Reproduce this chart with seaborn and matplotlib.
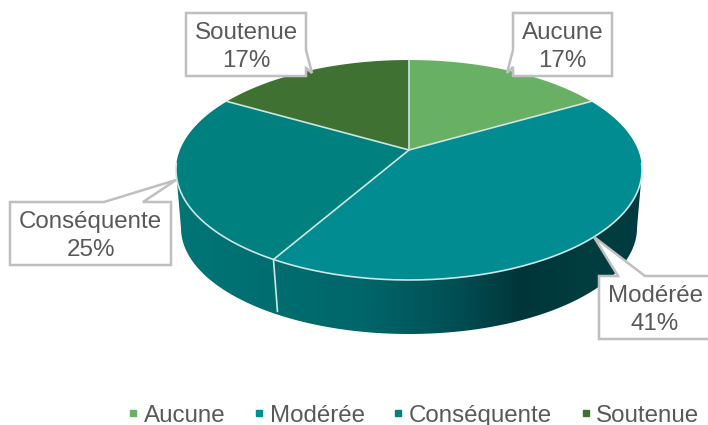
import numpy as np
import seaborn as sns
import matplotlib.pyplot as plt
from matplotlib.colors import LinearSegmentedColormap
from matplotlib.lines import Line2D
from matplotlib.patches import Polygon

categories = ['Aucune', 'Modérée', 'Conséquente', 'Soutenue']
values = [16.7, 41.6, 25.0, 16.7]
percent_labels = ['17%', '41%', '25%', '17%']
colors = ['#68B063', '#008C90', '#00807F', '#3F7232']

# pixel layout of the fake 3D pie
top_c = (409, 170)
top_r = (233, 110)
bot_c = (409, 228)
bot_r = (228, 106)
tilt = 0.182

sns.set_theme(style='white')
plt.rcParams['font.family'] = ['Liberation Sans', 'DejaVu Sans']

fig = plt.figure(figsize=(7.08, 4.25), dpi=100)
ax = fig.add_axes([0, 0, 1, 1])


def rim(deg):
    # circle to tilted ellipse, the pie centre moves towards the back
    a = np.radians(deg)
    x, y = np.sin(a), np.cos(a)
    d = 1 + tilt * y
    px = top_c[0] + top_r[0] * x * np.sqrt(1 - tilt ** 2) / d
    py = top_c[1] - top_r[1] * (y + tilt) / d
    return px, py


apex = (top_c[0], top_c[1] - top_r[1] * tilt)
bounds = np.cumsum([0] + values) / sum(values) * 360

# side wall, gradient clipped to the outline
t = np.linspace(0, np.pi, 200)
upper = np.c_[top_c[0] + top_r[0] * np.cos(t), top_c[1] + top_r[1] * np.sin(t)]
lower = np.c_[bot_c[0] + bot_r[0] * np.cos(t), bot_c[1] + bot_r[1] * np.sin(t)]
wall = Polygon(np.r_[upper, lower[::-1]], closed=True, fc='none', ec='none')
ax.add_patch(wall)
cmap = LinearSegmentedColormap.from_list('wall', [
    (0.0, '#007677'), (0.2, '#006E70'), (0.4, '#00666A'), (0.6, '#004F54'),
    (0.74, '#00363A'), (0.9, '#023E40'), (1.0, '#003C3F')])
grad = ax.imshow(np.linspace(0, 1, 256)[None, :], cmap=cmap, aspect='auto',
                 extent=(176, 642, 340, 160), zorder=1)
grad.set_clip_path(wall)

# front seam between the two visible walls
sx, sy = rim(bounds[2])
ax.plot([sx, sx + 4], [sy, sy + 52], color='#CFE8E6', lw=1.2, zorder=2)

# top face
for i in range(len(values)):
    ang = np.linspace(bounds[i], bounds[i + 1], 80)
    px, py = rim(ang)
    ax.fill(np.r_[apex[0], px], np.r_[apex[1], py], color=colors[i], lw=0, zorder=3)
    ax.plot([apex[0], px[0]], [apex[1], py[0]], color='#CDE6E2', lw=1.2, zorder=4)
# light rim, only along the front
ang = np.linspace(97, 263, 200)
px, py = rim(ang)
ax.plot(px, py, color='#CDE6E6', lw=1.2, zorder=4)

# callouts: box corners then pointer, the Modérée box runs off the right edge
boxes = [(513, 13, 612, 76), (599, 276, 711, 339), (10, 202, 171, 265), (186, 13, 306, 76)]
pointers = [
    [(513, 50), (507, 73), (513, 67)],
    [(645, 276), (594, 237), (618, 276)],
    [(143, 202), (176, 180), (104, 202)],
    [(306, 50), (312, 73), (306, 68)],
]
for i, (x0, y0, x1, y1) in enumerate(boxes):
    p = pointers[i]
    if i == 0:
        pts = [(x0, y0), (x1, y0), (x1, y1), (x0, y1), p[2], p[1], p[0]]
    elif i == 3:
        pts = [(x0, y0), (x1, y0), p[0], p[1], p[2], (x1, y1), (x0, y1)]
    else:
        pts = [(x0, y0), p[2], p[1], p[0], (x1, y0), (x1, y1), (x0, y1)]
    ax.add_patch(Polygon(pts, closed=True, fc='white', ec='#BFBFBF', lw=1.8, zorder=5))
    ax.text((x0 + x1) / 2, (y0 + y1) / 2 + 2.5, f'{categories[i]}\n{percent_labels[i]}', color='#595959',
            fontsize=17.4, ha='center', va='center', linespacing=1.32, zorder=6)

handles = [Line2D([], [], ls='', marker='s', ms=5, color=c) for c in colors]
ax.legend(handles, categories, ncols=4, frameon=False, loc='lower right',
          bbox_to_anchor=(1.005, -0.032), fontsize=17.4, labelcolor='#595959',
          handletextpad=-0.06, columnspacing=0.89, borderpad=0, handlelength=1.0)

ax.set_xlim(0, 708)
ax.set_ylim(425, 0)
ax.axis('off')
sns.despine(ax=ax, left=True, bottom=True)
fig.savefig('out.png', dpi=100)
